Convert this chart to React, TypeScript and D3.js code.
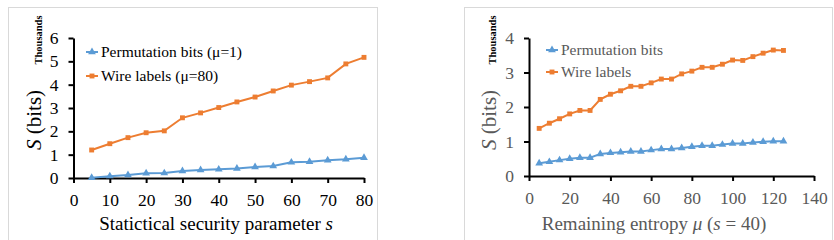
import React, { useRef, useEffect } from 'react';
import * as d3 from 'd3';

// Left panel: statistical security parameter s
const sValues = [5, 10, 15, 20, 25, 30, 35, 40, 45, 50, 55, 60, 65, 70, 75, 80];
const permBitsS = [0.01, 0.08, 0.13, 0.2, 0.21, 0.3, 0.34, 0.37, 0.41, 0.47, 0.51, 0.67, 0.7, 0.76, 0.8, 0.87];
const wireLabelsS = [1.2, 1.47, 1.73, 1.94, 2.02, 2.58, 2.79, 3.02, 3.26, 3.47, 3.73, 3.98, 4.13, 4.29, 4.89, 5.17];

// Right panel: remaining entropy mu
const muValues = [5, 10, 15, 20, 25, 30, 35, 40, 45, 50, 55, 60, 65, 70, 75, 80, 85, 90, 95, 100, 105, 110, 115, 120, 125];
const permBitsMu = [0.37, 0.41, 0.46, 0.5, 0.53, 0.53, 0.64, 0.67, 0.69, 0.71, 0.71, 0.75, 0.78, 0.78, 0.81, 0.85, 0.88, 0.88, 0.91, 0.94, 0.94, 0.97, 0.99, 1.01, 1.01];
const wireLabelsMu = [1.38, 1.53, 1.66, 1.8, 1.9, 1.9, 2.22, 2.37, 2.47, 2.6, 2.6, 2.7, 2.81, 2.81, 2.96, 3.04, 3.15, 3.15, 3.24, 3.36, 3.35, 3.46, 3.56, 3.65, 3.64];

const leftXTicks = [0, 10, 20, 30, 40, 50, 60, 70, 80];
const leftYTicks = [0, 1, 2, 3, 4, 5, 6];
const rightXTicks = [0, 20, 40, 60, 80, 100, 120, 140];
const rightYTicks = [0, 1, 2, 3, 4];

const BLUE = '#5b9bd5';
const ORANGE = '#ed7d31';
const FONT = 'Liberation Serif';

type Panel = {
  frame: [number, number, number, number];
  x0: number; x1: number; y0: number; y1: number;
  xDomain: [number, number]; yDomain: [number, number];
  xTicks: number[]; yTicks: number[];
  xs: number[]; perm: number[]; wire: number[];
  legend: [string, string];
  legendX: number; legendY: number; legendGap: number;
  textColor: string;
  yLabelX: number; thousandsX: number; xTitleX: number;
  xTitle: (t: d3.Selection<SVGTextElement, unknown, null, undefined>) => void;
};

function drawPanel(svg: d3.Selection<SVGSVGElement, unknown, null, undefined>, p: Panel) {
  const [fx, fy, fw, fh] = p.frame;
  svg.append('rect')
    .attr('x', fx + 0.5).attr('y', fy + 0.5)
    .attr('width', fw).attr('height', fh)
    .attr('fill', '#fff').attr('stroke', '#d9d9d9');

  const x = d3.scaleLinear().domain(p.xDomain).range([p.x0, p.x1]);
  const y = d3.scaleLinear().domain(p.yDomain).range([p.y0, p.y1]);

  const xAxis = svg.append('g')
    .attr('transform', `translate(0,${p.y0})`)
    .call(d3.axisBottom(x).tickValues(p.xTicks).tickFormat(d3.format('d')).tickSize(5).tickPadding(11).tickSizeOuter(0));
  const yAxis = svg.append('g')
    .attr('transform', `translate(${p.x0},0)`)
    .call(d3.axisLeft(y).tickValues(p.yTicks).tickFormat(d3.format('d')).tickSize(5).tickPadding(10).tickSizeOuter(0));

  [xAxis, yAxis].forEach(a => {
    a.attr('font-family', FONT).attr('font-size', 17.5);
    a.select('.domain').attr('stroke', '#000').attr('stroke-width', 2);
    a.selectAll('.tick line').attr('stroke', '#000').attr('stroke-width', 2);
    a.selectAll('.tick text').attr('fill', p.textColor);
  });

  const series = [
    { vals: p.perm, color: BLUE, sym: d3.symbolTriangle, size: 26 },
    { vals: p.wire, color: ORANGE, sym: d3.symbolSquare, size: 24 },
  ];

  series.forEach(s => {
    const line = d3.line<number>()
      .x((_, i) => x(p.xs[i]))
      .y(d => y(d));
    svg.append('path')
      .datum(s.vals)
      .attr('d', line)
      .attr('fill', 'none')
      .attr('stroke', s.color)
      .attr('stroke-width', 2);
    svg.append('g').selectAll('path')
      .data(s.vals)
      .enter()
      .append('path')
      .attr('d', d3.symbol().type(s.sym).size(s.size)())
      .attr('transform', (d, i) => `translate(${x(p.xs[i])},${y(d)})`)
      .attr('fill', s.color);
  });

  // legend
  series.forEach((s, i) => {
    const ly = p.legendY + i * p.legendGap;
    svg.append('line')
      .attr('x1', p.legendX - 6).attr('x2', p.legendX + 6)
      .attr('y1', ly).attr('y2', ly)
      .attr('stroke', s.color).attr('stroke-width', 2);
    svg.append('path')
      .attr('d', d3.symbol().type(s.sym).size(s.size)())
      .attr('transform', `translate(${p.legendX},${ly})`)
      .attr('fill', s.color);
    svg.append('text')
      .attr('x', p.legendX + 9).attr('y', ly)
      .attr('dy', '0.35em')
      .attr('fill', p.textColor)
      .attr('font-family', FONT)
      .attr('font-size', 15.5)
      .text(p.legend[i]);
  });

  // y title with the unit note
  const yt = svg.append('text')
    .attr('transform', `translate(${p.yLabelX},120) rotate(-90)`)
    .attr('text-anchor', 'middle')
    .attr('fill', p.textColor)
    .attr('font-family', FONT)
    .attr('font-size', 21);
  yt.append('tspan').attr('font-style', 'italic').text('S');
  yt.append('tspan').text(' (bits)');

  svg.append('text')
    .attr('transform', `translate(${p.thousandsX},40) rotate(-90)`)
    .attr('text-anchor', 'middle')
    .attr('fill', '#000')
    .attr('font-family', FONT)
    .attr('font-size', 10.5)
    .attr('font-weight', 'bold')
    .text('Thousands');

  const xt = svg.append('text')
    .attr('x', p.xTitleX)
    .attr('y', 230)
    .attr('text-anchor', 'middle')
    .attr('fill', p.textColor)
    .attr('font-family', FONT)
    .attr('font-size', 19);
  p.xTitle(xt);
}

export default function App() {
  const ref = useRef<SVGSVGElement>(null);

  useEffect(() => {
    const svg = d3.select(ref.current as SVGSVGElement);
    svg.selectAll('*').remove();

    drawPanel(svg, {
      frame: [8, 7, 369, 240],
      x0: 73.5, x1: 364, y0: 178, y1: 38,
      xDomain: [0, 80], yDomain: [0, 6],
      xTicks: leftXTicks, yTicks: leftYTicks,
      xs: sValues, perm: permBitsS, wire: wireLabelsS,
      legend: ['Permutation bits (μ=1)', 'Wire labels (μ=80)'],
      legendX: 92, legendY: 52, legendGap: 24,
      textColor: '#000',
      yLabelX: 41, thousandsX: 42, xTitleX: 216,
      xTitle: t => {
        t.append('tspan').text('Statictical security parameter ');
        t.append('tspan').attr('font-style', 'italic').text('s');
      },
    });

    drawPanel(svg, {
      frame: [464, 7, 368, 240],
      x0: 529, x1: 814, y0: 176, y1: 38,
      xDomain: [0, 140], yDomain: [0, 4],
      xTicks: rightXTicks, yTicks: rightYTicks,
      xs: muValues, perm: permBitsMu, wire: wireLabelsMu,
      legend: ['Permutation bits', 'Wire labels'],
      legendX: 552, legendY: 50, legendGap: 22,
      textColor: '#595959',
      yLabelX: 496, thousandsX: 496, xTitleX: 654,
      xTitle: t => {
        t.append('tspan').text('Remaining entropy ');
        t.append('tspan').attr('font-style', 'italic').text('μ');
        t.append('tspan').text(' (');
        t.append('tspan').attr('font-style', 'italic').text('s');
        t.append('tspan').text(' = 40)');
      },
    });
  }, []);

  return (
    <svg ref={ref} width={834} height={240}
      style={{ position: 'absolute', left: 0, top: 0, background: '#fff' }} />
  );
}
